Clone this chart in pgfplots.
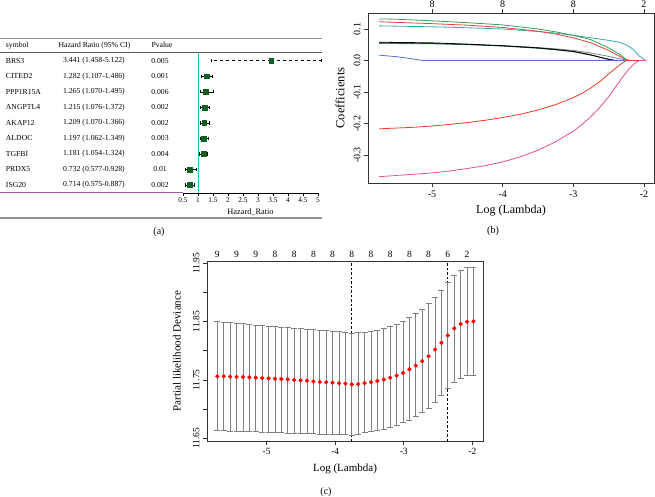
\documentclass[border=0pt]{standalone}
\usepackage{fontspec}
\setmainfont{Liberation Serif}
\usepackage{pgfplots}
\pgfplotsset{compat=1.18}
\usepackage{pgfplotstable}

\definecolor{fgreen}{RGB}{15,95,35}
\definecolor{tcyan}{RGB}{40,185,195}
\definecolor{tpurple}{RGB}{160,90,165}
\definecolor{lgray}{RGB}{145,145,145}
\definecolor{cgreen}{RGB}{50,160,90}
\definecolor{cred}{RGB}{240,60,60}
\definecolor{ccyan}{RGB}{50,170,180}
\definecolor{cdkgreen}{RGB}{0,80,30}
\definecolor{cgray}{RGB}{130,130,130}
\definecolor{cblue}{RGB}{90,110,200}
\definecolor{cred2}{RGB}{240,60,40}
\definecolor{cmag}{RGB}{230,80,150}

\pgfplotstableread{
hr lo hi row
1.282 1.107 1.486 8
1.265 1.070 1.495 7
1.215 1.076 1.372 6
1.209 1.070 1.366 5
1.197 1.062 1.349 4
1.181 1.054 1.324 3
0.732 0.577 0.928 2
0.714 0.575 0.887 1
}\forestrest

\pgfplotstableread{
hr lo hi row
3.441 1.458 5.122 9
}\forestbrs

\pgfplotstableread{
x y hi lo
-5.720 11.7563 11.8500 11.6635
-5.627 11.7563 11.8490 11.6631
-5.533 11.7557 11.8480 11.6627
-5.440 11.7552 11.8471 11.6623
-5.346 11.7552 11.8462 11.6619
-5.253 11.7546 11.8453 11.6615
-5.160 11.7540 11.8444 11.6612
-5.066 11.7534 11.8435 11.6608
-4.973 11.7529 11.8426 11.6604
-4.879 11.7523 11.8417 11.6600
-4.786 11.7517 11.8408 11.6596
-4.693 11.7511 11.8399 11.6592
-4.599 11.7500 11.8390 11.6588
-4.506 11.7494 11.8381 11.6584
-4.412 11.7489 11.8372 11.6580
-4.319 11.7477 11.8363 11.6576
-4.226 11.7466 11.8354 11.6572
-4.132 11.7460 11.8345 11.6568
-4.039 11.7454 11.8336 11.6565
-3.945 11.7443 11.8327 11.6562
-3.852 11.7437 11.8318 11.6559
-3.759 11.7425 11.8300 11.6557
-3.665 11.7431 11.8311 11.6574
-3.572 11.7448 11.8322 11.6597
-3.478 11.7460 11.8334 11.6614
-3.385 11.7483 11.8357 11.6631
-3.292 11.7506 11.8380 11.6660
-3.198 11.7540 11.8414 11.6688
-3.105 11.7575 11.8448 11.6728
-3.011 11.7621 11.8505 11.6768
-2.918 11.7684 11.8574 11.6814
-2.825 11.7747 11.8642 11.6871
-2.731 11.7822 11.8717 11.6945
-2.638 11.7908 11.8814 11.7014
-2.544 11.8023 11.8922 11.7122
-2.451 11.8138 11.9042 11.7237
-2.358 11.8264 11.9174 11.7357
-2.264 11.8385 11.9300 11.7460
-2.171 11.8460 11.9385 11.7528
-2.077 11.8500 11.9431 11.7574
-1.984 11.8506 11.9431 11.7580
}\cvtable

\begin{document}
\begin{tikzpicture}
\path[use as bounding box] (0pt,0pt) rectangle (655pt,496pt);

% ---------------- Panel (a) ----------------
\begin{axis}[
  at={(183pt,303pt)}, anchor=south west, scale only axis,
  width=135pt, height=141pt,
  xmin=0.5, xmax=5, ymin=0.485, ymax=9.56,
  clip=false,
  axis x line*=bottom, hide y axis,
  x axis line style={-, black, line width=0.6pt},
  xtick={0.5,1,1.5,2,2.5,3,3.5,4,4.5,5},
  xticklabels={0.5,1,1.5,2,2.5,3,3.5,4,4.5,5},
  tick align=outside, major tick length=3pt,
  tick style={black, line width=0.6pt},
  xticklabel style={font=\fontsize{7.3}{8}\selectfont, inner sep=1.5pt},
  xlabel={Hazard\_Ratio},
  xlabel style={font=\fontsize{8.3}{9}\selectfont, at={(axis description cs:0.5,-0.135)}, anchor=center},
]
% table lines
\draw[lgray, line width=1.2pt] (axis cs:-5.6,10.414) -- (axis cs:5.133,10.414);
\draw[black!65, line width=0.8pt] (axis cs:-5.6,9.56) -- (axis cs:5.133,9.56);
\draw[tpurple, line width=0.8pt] (axis cs:-5.6,0.55) -- (axis cs:0.5,0.55);
\draw[lgray, line width=1.2pt] (axis cs:-5.6,-1.12) -- (axis cs:5.133,-1.12);
% reference line
\addplot[tcyan, line width=0.8pt] coordinates {(1,0.485) (1,9.56)};
% header
\begin{scope}[font=\fontsize{7.7}{9}\selectfont]
\node[anchor=west] at (axis cs:-5.52,10) {symbol};
\node at (axis cs:-2.45,10) {Hazard Ratio (95\% CI)};
\node at (axis cs:-0.2,10) {Pvalue};
\node[anchor=west] at (axis cs:-5.52,9) {BRS3};
\node[anchor=west] at (axis cs:-5.52,8) {CITED2};
\node[anchor=west] at (axis cs:-5.52,7) {PPP1R15A};
\node[anchor=west] at (axis cs:-5.52,6) {ANGPTL4};
\node[anchor=west] at (axis cs:-5.52,5) {AKAP12};
\node[anchor=west] at (axis cs:-5.52,4) {ALDOC};
\node[anchor=west] at (axis cs:-5.52,3) {TGFBI};
\node[anchor=west] at (axis cs:-5.52,2) {PRDX5};
\node[anchor=west] at (axis cs:-5.52,1) {ISG20};
\node at (axis cs:-2.467,9) {3.441 (1.458-5.122)};
\node at (axis cs:-2.467,8) {1.282 (1.107-1.486)};
\node at (axis cs:-2.467,7) {1.265 (1.070-1.495)};
\node at (axis cs:-2.467,6) {1.215 (1.076-1.372)};
\node at (axis cs:-2.467,5) {1.209 (1.070-1.366)};
\node at (axis cs:-2.467,4) {1.197 (1.062-1.349)};
\node at (axis cs:-2.467,3) {1.181 (1.054-1.324)};
\node at (axis cs:-2.467,2) {0.732 (0.577-0.928)};
\node at (axis cs:-2.467,1) {0.714 (0.575-0.887)};
\node at (axis cs:-0.267,9) {0.005};
\node at (axis cs:-0.267,8) {0.001};
\node at (axis cs:-0.267,7) {0.006};
\node at (axis cs:-0.267,6) {0.002};
\node at (axis cs:-0.267,5) {0.002};
\node at (axis cs:-0.267,4) {0.003};
\node at (axis cs:-0.267,3) {0.004};
\node at (axis cs:-0.267,2) {0.01};
\node at (axis cs:-0.267,1) {0.002};
\end{scope}
% forest CI lines
\addplot[draw=none, forget plot,
  error bars/.cd, x dir=both, x explicit, error mark=none,
  error bar style={black, line width=0.5pt}]
  table[x=hr, y=row, x error plus expr=\thisrow{hi}-\thisrow{hr}, x error minus expr=\thisrow{hr}-\thisrow{lo}] {\forestrest};
\addplot[draw=none, forget plot,
  error bars/.cd, x dir=both, x explicit, error mark=none,
  error bar style={black, line width=0.5pt, dash pattern=on 3pt off 3pt}]
  table[x=hr, y=row, x error plus expr=\thisrow{hi}-\thisrow{hr}, x error minus expr=\thisrow{hr}-\thisrow{lo}] {\forestbrs};
% CI end caps
\addplot[only marks, mark=|, mark size=1.7pt, black, mark options={line width=0.5pt}] table[x=lo, y=row] {\forestrest};
\addplot[only marks, mark=|, mark size=1.7pt, black, mark options={line width=0.5pt}] table[x=hi, y=row] {\forestrest};
\addplot[only marks, mark=|, mark size=1.7pt, black, mark options={line width=0.5pt}] table[x=lo, y=row] {\forestbrs};
\addplot[only marks, mark=|, mark size=1.7pt, black, mark options={line width=0.5pt}] table[x=hi, y=row] {\forestbrs};
% HR squares
\addplot[only marks, mark=square*, mark size=2.4pt, fgreen] table[x=hr, y=row] {\forestrest};
\addplot[only marks, mark=square*, mark size=2.4pt, fgreen] table[x=hr, y=row] {\forestbrs};
\end{axis}
\node[font=\fontsize{10}{12}\selectfont] at (159pt,264pt) {(a)};

% ---------------- Panel (b) ----------------
\pgfplotsset{
  rstyle/.style={
    scale only axis, tick align=outside, major tick length=4pt,
    axis line style={black!80, line width=0.8pt},
    tick style={black!80, line width=0.7pt},
    ticklabel style={font=\fontsize{10}{12}\selectfont},
    enlargelimits=false,
  }
}
\begin{axis}[rstyle,
  at={(368pt,313pt)}, anchor=south west,
  width=286pt, height=170pt,
  xmin=-5.906, xmax=-1.858, ymin=-0.389, ymax=0.1508,
  xtick={-5,-4,-3,-2}, xticklabels={-5,-4,-3,-2},
  ytick={-0.3,-0.2,-0.1,0,0.1}, yticklabels={-0.3,-0.2,-0.1,0.0,0.1},
  xtick pos=bottom, ytick pos=left,
  yticklabel style={rotate=90, anchor=south},
  xlabel={Log (Lambda)}, ylabel={Coefficients},
  xlabel style={font=\fontsize{12}{14}\selectfont, at={(axis description cs:0.5,-0.165)}, anchor=center},
  ylabel style={font=\fontsize{12.5}{14}\selectfont, at={(axis description cs:-0.098,0.5)}, anchor=center},
  every axis plot/.append style={line width=0.8pt, line join=round},
]
\addplot[cgray] coordinates {(-5.75,0.054) (-5.0,0.053) (-4.5,0.050) (-4.0,0.047) (-3.5,0.041) (-3.25,0.037) (-3.0,0.032) (-2.75,0.024) (-2.5,0.013) (-2.35,0.006) (-2.22,0) (-1.98,0)};
\addplot[cdkgreen] coordinates {(-5.75,0.056) (-5.0,0.054) (-4.5,0.051) (-4.0,0.046) (-3.5,0.039) (-3.25,0.034) (-3.0,0.028) (-2.75,0.017) (-2.5,0.004) (-2.4,0) (-1.98,0)};
\addplot[black] coordinates {(-5.75,0.058) (-5.0,0.056) (-4.5,0.052) (-4.0,0.047) (-3.5,0.040) (-3.25,0.035) (-3.0,0.029) (-2.75,0.018) (-2.55,0.006) (-2.42,0) (-1.98,0)};
\addplot[cblue] coordinates {(-5.75,0.017) (-5.5,0.012) (-5.3,0.006) (-5.15,0.0005) (-5.1,0) (-1.98,0)};
\addplot[ccyan] coordinates {(-5.75,0.110) (-5.5,0.109) (-5.0,0.107) (-4.5,0.104) (-4.0,0.100) (-3.5,0.092) (-3.25,0.087) (-3.0,0.080) (-2.75,0.072) (-2.5,0.064) (-2.35,0.058) (-2.25,0.050) (-2.15,0.035) (-2.07,0.015) (-1.98,0)};
\addplot[cred] coordinates {(-5.75,0.123) (-5.5,0.121) (-5.0,0.117) (-4.5,0.112) (-4.0,0.105) (-3.5,0.093) (-3.25,0.084) (-3.0,0.072) (-2.75,0.056) (-2.5,0.032) (-2.35,0.014) (-2.25,0.002) (-2.22,0) (-1.98,0)};
\addplot[cgreen] coordinates {(-5.75,0.132) (-5.5,0.131) (-5.0,0.126) (-4.5,0.120) (-4.0,0.113) (-3.5,0.100) (-3.25,0.091) (-3.0,0.080) (-2.75,0.066) (-2.5,0.040) (-2.35,0.020) (-2.24,0.002) (-2.2,0) (-1.98,0)};
\addplot[cred2] coordinates {(-5.75,-0.217) (-5.25,-0.212) (-5.0,-0.208) (-4.75,-0.203) (-4.5,-0.197) (-4.25,-0.190) (-4.0,-0.181) (-3.75,-0.171) (-3.5,-0.157) (-3.25,-0.140) (-3.0,-0.118) (-2.875,-0.104) (-2.75,-0.087) (-2.625,-0.067) (-2.5,-0.043) (-2.4,-0.024) (-2.3,-0.007) (-2.25,0) (-1.98,0)};
\addplot[cmag] coordinates {(-5.75,-0.369) (-5.5,-0.365) (-5.25,-0.361) (-5.0,-0.357) (-4.75,-0.351) (-4.5,-0.343) (-4.25,-0.334) (-4.0,-0.322) (-3.75,-0.306) (-3.5,-0.285) (-3.25,-0.258) (-3.0,-0.224) (-2.875,-0.203) (-2.75,-0.178) (-2.625,-0.149) (-2.5,-0.115) (-2.4,-0.084) (-2.3,-0.052) (-2.2,-0.024) (-2.12,-0.007) (-2.06,0) (-1.98,0)};
\end{axis}
\begin{axis}[rstyle,
  at={(368pt,313pt)}, anchor=south west,
  width=286pt, height=170pt,
  xmin=-5.906, xmax=-1.858, ymin=-0.389, ymax=0.1508,
  axis x line*=top, hide y axis, x axis line style={draw=none},
  xticklabel style={inner sep=0.8pt},
  xtick={-5,-4,-3,-2}, xticklabels={8,8,8,2},
]
\end{axis}
\node[font=\fontsize{10}{12}\selectfont] at (493pt,265pt) {(b)};

% ---------------- Panel (c) ----------------
\begin{axis}[rstyle,
  at={(207pt,55pt)}, anchor=south west,
  width=276pt, height=180pt,
  xmin=-5.871, xmax=-1.844, ymin=11.6454, ymax=11.954,
  xtick={-5,-4,-3,-2}, xticklabels={-5,-4,-3,-2},
  ytick={11.65,11.70,11.75,11.80,11.85,11.90,11.95},
  yticklabels={11.65,,11.75,,11.85,,11.95},
  xtick pos=bottom, ytick pos=left,
  ticklabel style={font=\fontsize{9.5}{11}\selectfont},
  yticklabel style={rotate=90, anchor=south},
  xlabel={Log (Lambda)}, ylabel={Partial likelihood Deviance},
  xlabel style={font=\fontsize{11}{13}\selectfont, at={(axis description cs:0.5,-0.156)}, anchor=center},
  ylabel style={font=\fontsize{11}{13}\selectfont, at={(axis description cs:-0.109,0.5)}, anchor=center},
]
\addplot[black, line width=0.6pt, dash pattern=on 2.5pt off 2pt] coordinates {(-3.759,11.6454) (-3.759,11.954)};
\addplot[black, line width=0.6pt, dash pattern=on 2.5pt off 2pt] coordinates {(-2.358,11.6454) (-2.358,11.954)};
% error bars
\addplot[draw=none, forget plot,
  error bars/.cd, y dir=both, y explicit, error mark=none,
  error bar style={gray, line width=0.8pt}]
  table[x=x, y=y, y error plus expr=\thisrow{hi}-\thisrow{y}, y error minus expr=\thisrow{y}-\thisrow{lo}] {\cvtable};
% caps
\addplot[only marks, mark=-, mark size=3pt, gray, mark options={line width=0.8pt}] table[x=x, y=hi] {\cvtable};
\addplot[only marks, mark=-, mark size=3pt, gray, mark options={line width=0.8pt}] table[x=x, y=lo] {\cvtable};
% means
\addplot[only marks, mark=*, mark size=1.9pt, red] table[x=x, y=y] {\cvtable};
\end{axis}
\begin{axis}[rstyle,
  at={(207pt,55pt)}, anchor=south west,
  width=276pt, height=180pt,
  xmin=-5.871, xmax=-1.844, ymin=11.6454, ymax=11.954,
  axis x line*=top, hide y axis, x axis line style={draw=none},
  major tick length=0pt,
  ticklabel style={font=\fontsize{9.5}{11}\selectfont},
  xtick={-5.720,-5.440,-5.160,-4.879,-4.599,-4.319,-4.039,-3.759,-3.478,-3.198,-2.918,-2.638,-2.358,-2.077},
  xticklabels={9,9,9,8,8,8,8,8,8,8,8,8,6,2},
]
\end{axis}
\node[font=\fontsize{10}{12}\selectfont] at (326pt,4.3pt) {(c)};
\end{tikzpicture}
\end{document}
